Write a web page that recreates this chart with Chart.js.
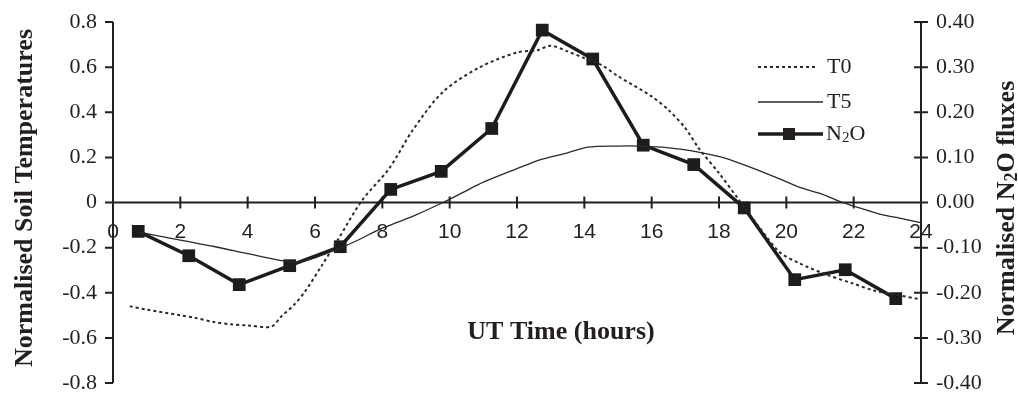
<!DOCTYPE html>
<html>
<head>
<meta charset="utf-8">
<script src="https://cdn.jsdelivr.net/npm/chart.js@4.4.0/dist/chart.umd.min.js"></script>
<style>
  html, body { margin: 0; padding: 0; background: #fff; }
  #wrap { width: 1018px; height: 394px; position: relative; }
</style>
</head>
<body>
<div id="wrap"><canvas id="chart"></canvas></div>
<script>
// tick labels
var hourTicks = [0, 2, 4, 6, 8, 10, 12, 14, 16, 18, 20, 22, 24];
var soilTicks = [0.8, 0.6, 0.4, 0.2, 0, -0.2, -0.4, -0.6, -0.8];
var soilTickLabels = ['0.8', '0.6', '0.4', '0.2', '0', '-0.2', '-0.4', '-0.6', '-0.8'];
var fluxTicks = [0.4, 0.3, 0.2, 0.1, 0, -0.1, -0.2, -0.3, -0.4];
var fluxTickLabels = ['0.40', '0.30', '0.20', '0.10', '0.00', '-0.10', '-0.20', '-0.30', '-0.40'];

// T0 - surface soil temperature (left axis)
var t0Hours = [0.5, 1, 2, 2.4, 3, 3.5, 4, 4.7, 5, 5.4, 5.7, 6.2, 6.7, 7.4, 8.2, 8.9, 9.8, 10.9, 12, 12.6, 13, 13.5, 14, 14.5, 15, 16, 16.5, 17, 17.4, 18, 18.6, 19.2, 19.8, 20.4, 21.2, 22, 22.6, 23.3, 24];
var t0Values = [-0.46, -0.475, -0.50, -0.51, -0.53, -0.54, -0.545, -0.55, -0.505, -0.45, -0.395, -0.28, -0.16, 0.01, 0.15, 0.32, 0.49, 0.60, 0.665, 0.675, 0.695, 0.67, 0.64, 0.61, 0.56, 0.47, 0.41, 0.33, 0.24, 0.13, 0.01, -0.11, -0.22, -0.27, -0.32, -0.36, -0.39, -0.41, -0.43];

// T5 - soil temperature at 5 cm (left axis)
var t5Hours = [0.75, 2, 3, 4, 5, 5.5, 6, 6.7, 7.3, 7.9, 8.5, 9, 9.8, 10.4, 11, 12, 12.7, 13.5, 14.1, 15, 15.6, 16.3, 16.9, 17.5, 18.1, 18.6, 19.1, 19.8, 20.4, 21, 21.6, 22.2, 22.8, 23.4, 24];
var t5Values = [-0.13, -0.167, -0.195, -0.227, -0.258, -0.265, -0.245, -0.205, -0.165, -0.12, -0.085, -0.055, 0.0, 0.045, 0.09, 0.15, 0.19, 0.22, 0.245, 0.25, 0.25, 0.245, 0.235, 0.22, 0.2, 0.175, 0.147, 0.105, 0.067, 0.04, 0.004, -0.025, -0.053, -0.07, -0.09];

// N2O fluxes (right axis)
var n2oHours = [0.75, 2.25, 3.75, 5.25, 6.75, 8.25, 9.75, 11.25, 12.75, 14.25, 15.75, 17.25, 18.75, 20.25, 21.75, 23.25];
var n2oValues = [-0.064, -0.118, -0.182, -0.14, -0.098, 0.029, 0.069, 0.164, 0.382, 0.318, 0.127, 0.084, -0.012, -0.171, -0.149, -0.213];

function pairs(xs, ys) {
  return xs.map(function(x, i) { return { x: x, y: ys[i] }; });
}

var ink = '#231f20';
var serif = '"Liberation Serif", "Times New Roman", serif';
var sans = '"Liberation Sans", Arial, sans-serif';

// draws "N" + subscript 2 + rest, starting at x, returns nothing
function drawN2O(ctx, before, after, x, y, size, sub, weight) {
  ctx.textAlign = 'left';
  ctx.font = weight + size + 'px ' + serif;
  var wa = ctx.measureText(before).width;
  ctx.fillText(before, x, y);
  ctx.font = weight + sub + 'px ' + serif;
  var wb = ctx.measureText('2').width;
  ctx.fillText('2', x + wa, y + size * 0.2);
  ctx.font = weight + size + 'px ' + serif;
  ctx.fillText(after, x + wa + wb, y);
}

// axes, tick marks, titles and legend drawn from the chart scales
var decorations = {
  id: 'decorations',
  beforeDatasetsDraw: function(chart) {
    var ctx = chart.ctx;
    var xs = chart.scales.x, yl = chart.scales.y, yr = chart.scales.y2;
    var area = chart.chartArea;
    var y0 = yl.getPixelForValue(0);
    ctx.save();
    ctx.strokeStyle = ink;
    ctx.fillStyle = ink;
    ctx.lineWidth = 2;
    // left axis
    ctx.beginPath();
    ctx.moveTo(area.left, area.top); ctx.lineTo(area.left, area.bottom);
    soilTicks.forEach(function(v) {
      var p = yl.getPixelForValue(v);
      ctx.moveTo(area.left - 8, p); ctx.lineTo(area.left, p);
    });
    // right axis
    ctx.moveTo(area.right, area.top); ctx.lineTo(area.right, area.bottom);
    fluxTicks.forEach(function(v) {
      var p = yr.getPixelForValue(v);
      ctx.moveTo(area.right - 7, p); ctx.lineTo(area.right + 7, p);
    });
    // x axis at zero
    ctx.moveTo(area.left, y0); ctx.lineTo(area.right, y0);
    hourTicks.forEach(function(h) {
      var p = xs.getPixelForValue(h);
      ctx.moveTo(p, y0 - 6); ctx.lineTo(p, y0 + 6);
    });
    ctx.stroke();

    ctx.font = '22px ' + serif;
    ctx.textBaseline = 'middle';
    ctx.textAlign = 'right';
    soilTicks.forEach(function(v, i) {
      ctx.fillText(soilTickLabels[i], area.left - 16, yl.getPixelForValue(v));
    });
    ctx.textAlign = 'left';
    fluxTicks.forEach(function(v, i) {
      ctx.fillText(fluxTickLabels[i], area.right + 15, yr.getPixelForValue(v));
    });
    ctx.font = '21px ' + sans;
    ctx.textAlign = 'center';
    hourTicks.forEach(function(h) {
      ctx.fillText(String(h), xs.getPixelForValue(h), y0 + 30);
    });
    ctx.restore();
  },
  afterDraw: function(chart) {
    var ctx = chart.ctx;
    var area = chart.chartArea;
    ctx.save();
    ctx.fillStyle = ink;
    ctx.textBaseline = 'middle';

    // axis titles
    ctx.font = 'bold 26px ' + serif;
    ctx.textAlign = 'center';
    ctx.fillText('UT Time (hours)', 561, 332);

    ctx.save();
    ctx.translate(25, 198);
    ctx.rotate(-Math.PI / 2);
    ctx.fillText('Normalised Soil Temperatures', 0, 0);
    ctx.restore();

    ctx.save();
    ctx.translate(1007, 208);
    ctx.rotate(-Math.PI / 2);
    ctx.font = 'bold 26px ' + serif;
    var total = ctx.measureText('Normalised N').width + ctx.measureText('O fluxes').width;
    ctx.font = 'bold 18px ' + serif;
    total += ctx.measureText('2').width;
    drawN2O(ctx, 'Normalised N', 'O fluxes', -total / 2, 0, 26, 18, 'bold ');
    ctx.restore();

    // legend
    var rows = [
      { ds: chart.data.datasets[0], y: 67, label: 'T0' },
      { ds: chart.data.datasets[1], y: 102, label: 'T5' },
      { ds: chart.data.datasets[2], y: 134, label: 'N2O' }
    ];
    rows.forEach(function(r) {
      ctx.save();
      ctx.strokeStyle = r.ds.borderColor;
      ctx.lineWidth = r.ds.borderWidth;
      ctx.setLineDash(r.ds.borderDash || []);
      ctx.beginPath();
      ctx.moveTo(758, r.y); ctx.lineTo(r.ds.borderDash ? 818 : 823, r.y);
      ctx.stroke();
      ctx.restore();
      if (r.ds.pointRadius) {
        ctx.fillRect(783, r.y - 6, 12, 12);
      }
      if (r.label === 'N2O') {
        drawN2O(ctx, 'N', 'O', 826, r.y, 22, 15, '');
      } else {
        ctx.font = '22px ' + serif;
        ctx.textAlign = 'left';
        ctx.fillText(r.label, 827, r.y);
      }
    });
    ctx.restore();
  }
};

new Chart(document.getElementById('chart'), {
  type: 'line',
  data: {
    datasets: [
      {
        label: 'T0',
        data: pairs(t0Hours, t0Values),
        yAxisID: 'y',
        borderColor: '#2a2a2a',
        borderWidth: 2,
        borderDash: [3, 3],
        pointRadius: 0,
        tension: 0.3,
        fill: false
      },
      {
        label: 'T5',
        data: pairs(t5Hours, t5Values),
        yAxisID: 'y',
        borderColor: '#2a2a2a',
        borderWidth: 1.3,
        pointRadius: 0,
        tension: 0.3,
        fill: false
      },
      {
        label: 'N2O',
        data: pairs(n2oHours, n2oValues),
        yAxisID: 'y2',
        borderColor: '#1c1c1c',
        backgroundColor: '#1c1c1c',
        borderWidth: 3.5,
        pointStyle: 'rect',
        pointRadius: 9,
        pointBorderWidth: 0,
        tension: 0,
        fill: false
      }
    ]
  },
  options: {
    responsive: true,
    maintainAspectRatio: false,
    animation: false,
    layout: { padding: { left: 113, right: 97, top: 22, bottom: 11 } },
    plugins: { legend: { display: false }, tooltip: { enabled: false } },
    scales: {
      x: { type: 'linear', min: 0, max: 24, display: false },
      y: { type: 'linear', min: -0.8, max: 0.8, display: false },
      y2: { type: 'linear', min: -0.4, max: 0.4, display: false }
    }
  },
  plugins: [decorations]
});
</script>
</body>
</html>
